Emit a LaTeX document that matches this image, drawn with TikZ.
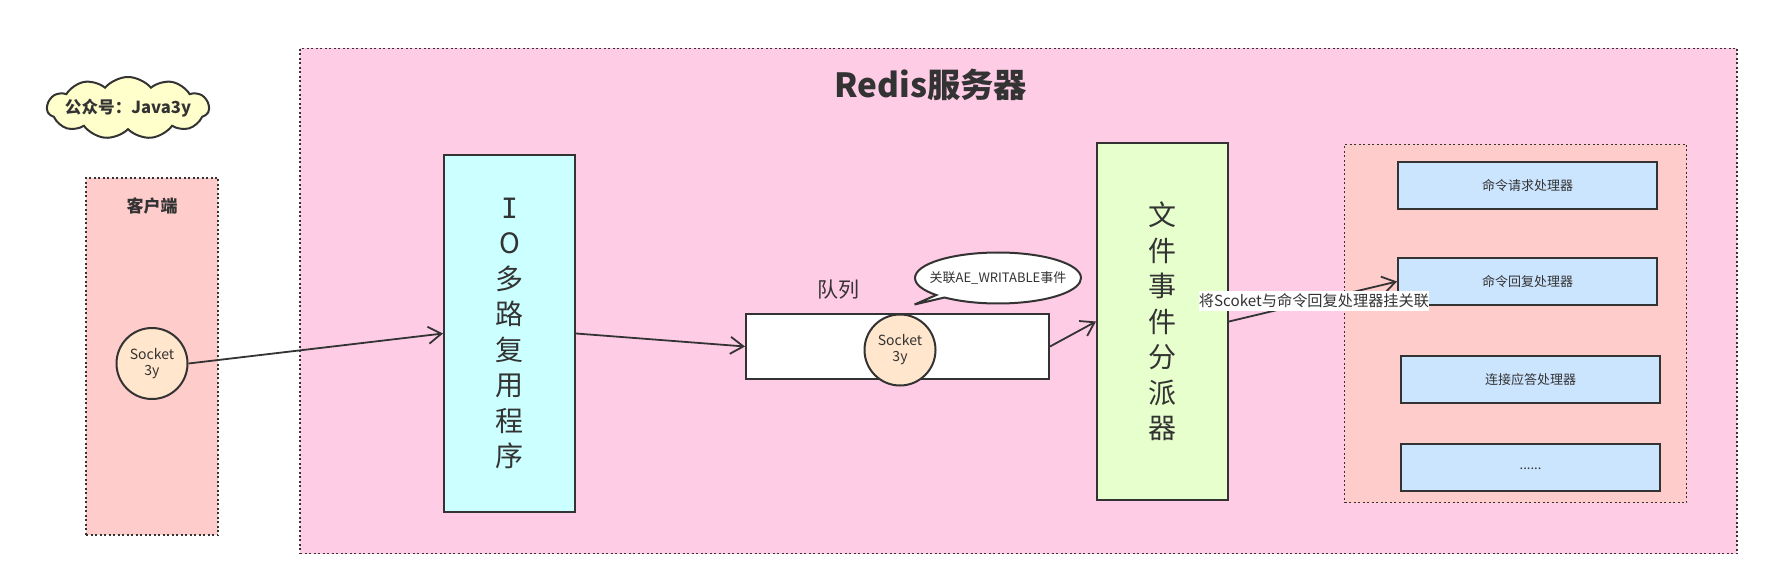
\documentclass[tikz,border=0pt]{standalone}
\usepackage{fontspec}
\setmainfont{Noto Sans CJK SC}
\newfontfamily\slabfont{DejaVu Sans Mono}
\usetikzlibrary{shapes}
\usetikzlibrary{arrows.meta}
\definecolor{inkgray}{HTML}{333333}
\definecolor{serverpink}{HTML}{FFCCE6}
\definecolor{clientrose}{HTML}{FFCCCC}
\definecolor{iocyan}{HTML}{CCFFFF}
\definecolor{filegreen}{HTML}{E6FFCC}
\definecolor{handlerblue}{HTML}{CCE5FF}
\definecolor{noteyellow}{HTML}{FFFFCC}
\definecolor{socketpeach}{HTML}{FFE6CC}
\tikzset{
	basenode/.style = {
		align=center,
		inner sep=0pt,
		text centered,
		text=inkgray,
		draw=inkgray,
		line width=2pt
	},
	node_region/.style = {
		basenode,
		rectangle,
		line width=1.6pt,
		dash pattern=on 2pt off 2.5pt
	},
	node_block/.style = {
		basenode,
		rectangle,
		minimum width=131pt,
		minimum height=357.5pt,
		font=\fontsize{28}{35.5}\selectfont
	},
	node_handler/.style = {
		basenode,
		rectangle,
		fill=handlerblue,
		minimum width=259pt,
		minimum height=47.5pt,
		font=\fontsize{13}{16}\selectfont
	},
	node_socket/.style = {
		basenode,
		ellipse,
		fill=socketpeach,
		minimum width=71pt,
		minimum height=71pt,
		font=\fontsize{14}{16}\selectfont
	},
	node_text/.style = {
		align=center,
		inner sep=0pt,
		text=inkgray
	},
	link/.style = {
		draw=inkgray,
		line width=1.8pt,
		-{Straight Barb[length=13pt,width=17pt,line width=1.8pt]}
	},
}
\begin{document}
\begin{tikzpicture}[x=1pt,y=-1pt]
\useasboundingbox (0,0) rectangle (1768,585);
\node [node_region, fill=serverpink, minimum width=1437pt, minimum height=505pt] (server) at (1018.5,301) {};
\node [node_region, fill=clientrose, minimum width=132pt, minimum height=357.5pt] (client) at (152,356.5) {};
\node [node_region, fill=clientrose, minimum width=342pt, minimum height=358pt] (handlers) at (1515.5,323.5) {};
\node [node_text, font=\fontsize{33.3}{40}\selectfont\bfseries] (title) at (931,85) {Redis服务器};
\node [node_text, font=\fontsize{17}{20}\selectfont\bfseries] (clientname) at (152,205.5) {客户端};
\node [basenode, cloud, cloud puffs=11, cloud puff arc=100, aspect=2.6, fill=noteyellow, minimum width=162pt, minimum height=62pt, label={[node_text, font=\fontsize{16.6}{20}\selectfont\bfseries]center:公众号：Java3y}] (account) at (128,108) {};
\node [node_socket] (clientsock) at (152,363.5) {Socket\\3y};
\node [node_block, fill=iocyan] (iobox) at (509.5,333.5) {{\slabfont I}\\O\\多\\路\\复\\用\\程\\序};
\node [basenode, fill=white, minimum width=303pt, minimum height=65pt] (queue) at (897.5,346.5) {};
\node [node_socket] (queuesock) at (900,350) {Socket\\3y};
\node [node_text, font=\fontsize{21}{24}\selectfont] (queuename) at (838,290) {队列};
\coordinate (bubbletip) at (914.5,304.5);
\node [basenode, ellipse callout, fill=white, callout absolute pointer={(bubbletip)}, callout pointer arc=8, minimum width=166pt, minimum height=51pt, label={[node_text, font=\fontsize{13}{16}\selectfont]center:关联AE\_WRITABLE事件}] (bubble) at (998,278) {};
\node [node_block, fill=filegreen] (filebox) at (1162.5,321.5) {文\\件\\事\\件\\分\\派\\器};
\node [node_handler] (requesthandler) at (1527.5,185.5) {命令请求处理器};
\node [node_handler] (replyhandler) at (1527.5,281.5) {命令回复处理器};
\node [node_handler] (accepthandler) at (1530.5,379.5) {连接应答处理器};
\node [node_handler] (morehandler) at (1530.5,467.5) {\raisebox{-4pt}{......}};
\draw [link] (clientsock.east) -- (iobox.west);
\draw [link] (iobox.east) -- (queue.west);
\draw [link] (queue.east) -- (filebox.west);
\draw [link] (filebox.east) -- (replyhandler.west);
\node [node_text, fill=white, minimum height=20pt, font=\fontsize{15.2}{20}\selectfont] (replynote) at (1314,301) {将Scoket与命令回复处理器挂关联};
\end{tikzpicture}
\end{document}
